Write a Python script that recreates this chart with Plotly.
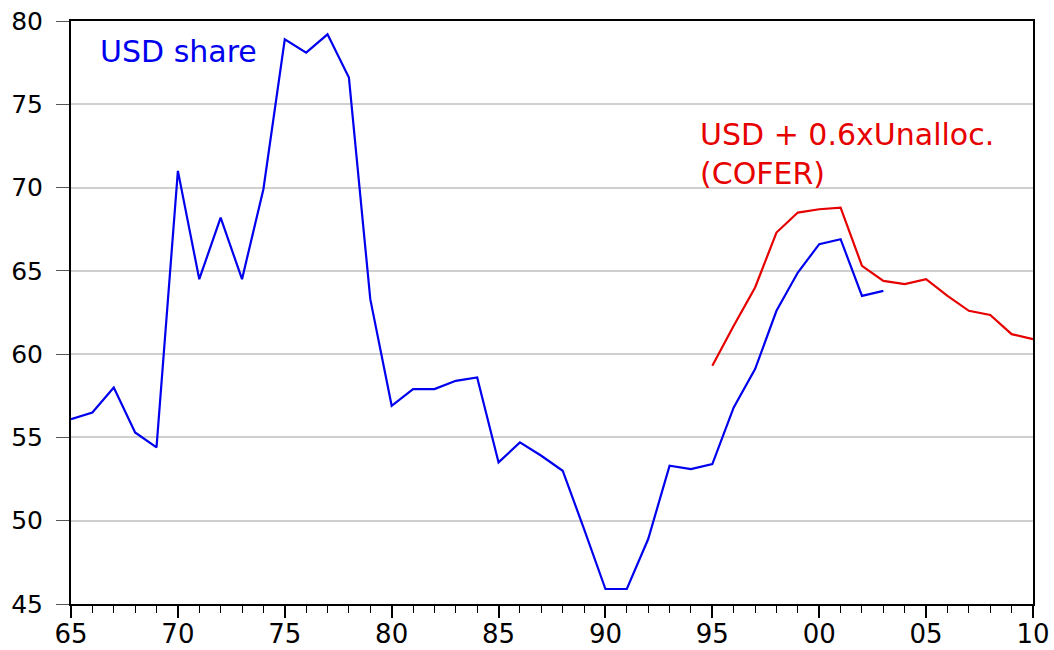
import plotly.graph_objects as go

years_usd = list(range(1965, 2004))
usd_share = [56.1, 56.5, 58.0, 55.3, 54.4, 71.0, 64.5, 68.2, 64.5, 69.9,
             78.9, 78.1, 79.2, 76.6, 63.3, 56.9, 57.9, 57.9, 58.4, 58.6,
             53.5, 54.7, 53.9, 53.0, 49.5, 45.9, 45.9, 48.9, 53.3, 53.1,
             53.4, 56.8, 59.1, 62.6, 64.9, 66.6, 66.9, 63.5, 63.8]

years_cofer = list(range(1995, 2011))
usd_unalloc = [59.3, 61.7, 64.0, 67.3, 68.5, 68.7, 68.8, 65.3, 64.4, 64.2,
               64.5, 63.5, 62.6, 62.35, 61.2, 60.9]

tick_years = [1965, 1970, 1975, 1980, 1985, 1990, 1995, 2000, 2005, 2010]
tick_text = ["65", "70", "75", "80", "85", "90", "95", "00", "05", "10"]
y_ticks = [45, 50, 55, 60, 65, 70, 75, 80]

BLUE = "#0000EE"
RED = "#E60000"
FONT = "DejaVu Sans, Liberation Sans, Arial, sans-serif"

fig = go.Figure()
fig.add_trace(go.Scatter(x=years_usd, y=usd_share, mode="lines",
                         line=dict(color=BLUE, width=2.2), name="USD share"))
fig.add_trace(go.Scatter(x=years_cofer, y=usd_unalloc, mode="lines",
                         line=dict(color=RED, width=2.2), name="USD + 0.6xUnalloc. (COFER)"))

fig.add_annotation(x=1966.25, y=78.15, xref="x", yref="y", text="USD share",
                   showarrow=False, xanchor="left", yanchor="middle",
                   font=dict(family=FONT, size=30, color=BLUE))
fig.add_annotation(x=1994.32, y=72.0, xref="x", yref="y",
                   text="USD + 0.6xUnalloc.<br>(COFER)", align="left",
                   showarrow=False, xanchor="left", yanchor="middle",
                   font=dict(family=FONT, size=30, color=RED))

fig.update_layout(
    width=1054, height=650,
    margin=dict(l=71, r=21, t=21, b=46, autoexpand=False),
    paper_bgcolor="white", plot_bgcolor="white",
    showlegend=False,
    font=dict(family=FONT, color="black"),
)
fig.update_xaxes(
    range=[1965, 2010], automargin=False,
    tickvals=tick_years, ticktext=tick_text,
    ticks="outside", ticklen=12, tickwidth=1.5, tickcolor="black",
    ticklabelstandoff=-6, ticklabeloverflow="allow",
    tickfont=dict(family=FONT, size=26, color="black"),
    showline=True, linecolor="black", linewidth=2, mirror=True,
    showgrid=False, zeroline=False,
    minor=dict(tickvals=list(range(1965, 2011)), ticks="outside", ticklen=7,
               tickwidth=1.2, tickcolor="black", showgrid=False),
)
fig.update_yaxes(
    range=[45, 80], automargin=False,
    tickvals=y_ticks,
    ticks="outside", ticklen=13, tickwidth=1.2, tickcolor="#555555",
    ticklabelstandoff=8, ticklabeloverflow="allow",
    tickfont=dict(family=FONT, size=25, color="black"),
    showline=True, linecolor="black", linewidth=2, mirror=True,
    showgrid=True, gridcolor="#CFCFCF", gridwidth=1.5, zeroline=False,
)

# remove the page's default body margin so the 1054x650 figure fills the window
fig.write_html("out.html",
               config={"displayModeBar": False},
               post_script="document.body.style.margin='0';document.body.style.overflow='hidden';")
